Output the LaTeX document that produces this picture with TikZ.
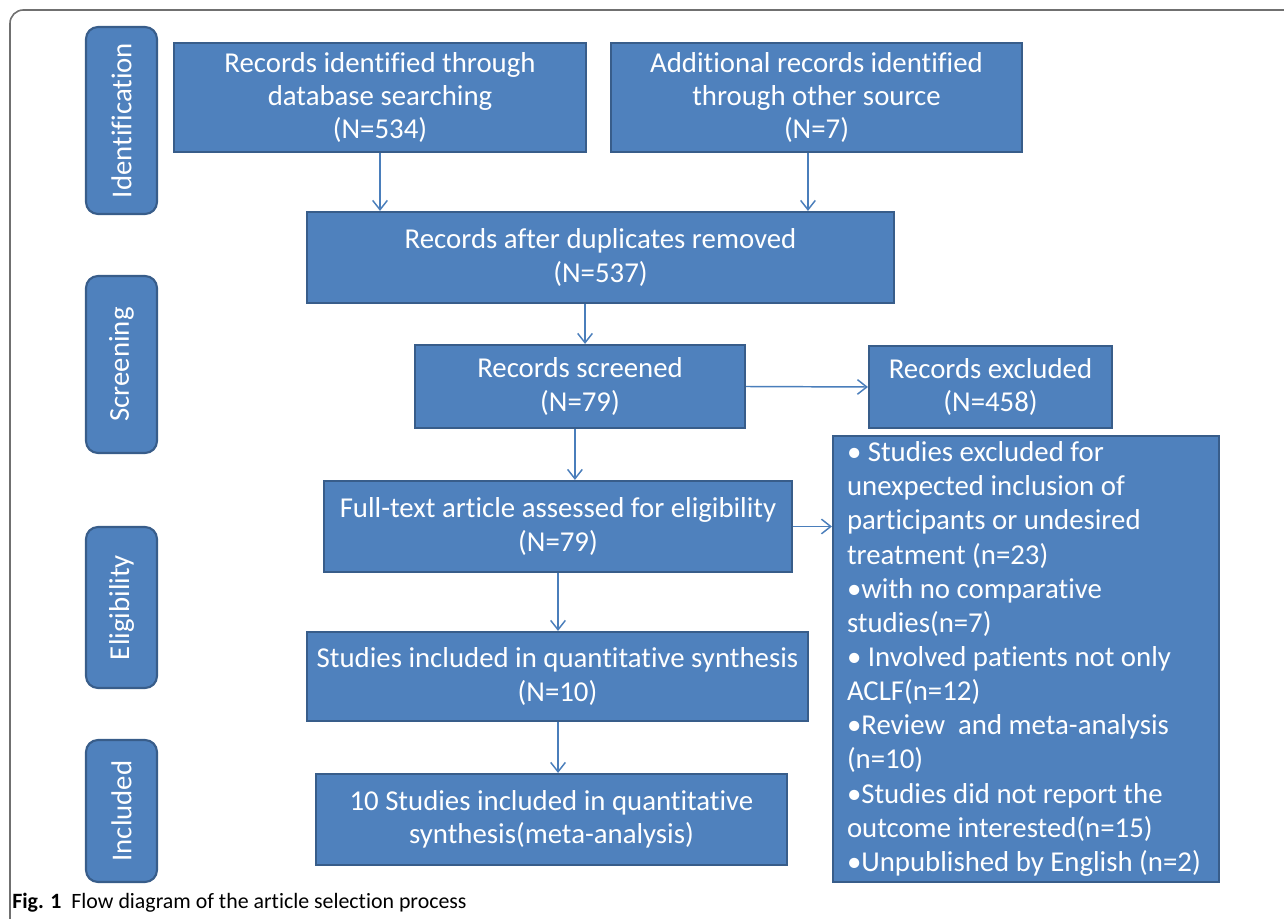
\documentclass[tikz,border=0pt]{standalone}
\usepackage{fontspec}
\setmainfont{Carlito}[Ligatures=NoCommon]
\usetikzlibrary{arrows.meta}

\definecolor{boxfill}{HTML}{4F81BD}
\definecolor{boxline}{HTML}{385D8A}
\definecolor{arrowcol}{HTML}{4A7EBB}
\definecolor{framecol}{HTML}{707070}

\tikzset{
	flowbox/.style={draw=boxline, fill=boxfill, line width=1.6pt, text=white, align=center,
		inner sep=0pt, font=\fontsize{21.6}{25}\selectfont},
	stagebox/.style={flowbox, rounded corners=9pt, rotate=90},
	flowarrow/.style={draw=arrowcol, line width=1.1pt, -{Straight Barb[length=7pt,width=11pt]}}
}

\begin{document}
\begin{tikzpicture}[x=0.75pt,y=-0.75pt]
		\useasboundingbox (0,0) rectangle (1284,919);
		\draw[framecol, line width=1.2pt, rounded corners=10pt] (10,919) -- (10,10) -- (1284,10);

		\node[stagebox, minimum width=187*0.75pt, minimum height=71*0.75pt] (ident) at (121.5,120.5) {Identification};
		\node[stagebox, minimum width=177*0.75pt, minimum height=71*0.75pt] (screen) at (121.5,364.5) {Screening};
		\node[stagebox, minimum width=161*0.75pt, minimum height=71*0.75pt] (elig) at (121.5,607.5) {Eligibility};
		\node[stagebox, minimum width=142*0.75pt, minimum height=71*0.75pt] (incl) at (121.5,811) {Included};

		\node[flowbox, minimum width=412*0.75pt, minimum height=109*0.75pt] (dbsearch) at (380,97.5) {Records identified through\\database searching\\(N=534)};
		\node[flowbox, minimum width=411*0.75pt, minimum height=109*0.75pt] (other) at (816.5,97.5) {Additional records identified\\through other source\\(N=7)};
		\node[flowbox, minimum width=587*0.75pt, minimum height=91*0.75pt] (dedup) at (600.5,257.5) {Records after duplicates removed\\(N=537)};
		\node[flowbox, minimum width=330*0.75pt, minimum height=83*0.75pt] (screened) at (580,386.5) {Records screened\\(N=79)};
		\node[flowbox, minimum width=243*0.75pt, minimum height=82*0.75pt] (excluded) at (990.5,387) {Records excluded\\(N=458)};
		\node[flowbox, minimum width=468*0.75pt, minimum height=91*0.75pt] (fulltext) at (558,526.5) {Full-text article assessed for eligibility\\(N=79)};
		\node[flowbox, minimum width=386*0.75pt, minimum height=446*0.75pt, text width=358*0.75pt, align=flush left, font=\fontsize{21.6}{25.6}\selectfont] (reasons) at (1026,659) {\textbullet{} Studies excluded for\\unexpected inclusion of\\participants or undesired\\treatment (n=23)\\\textbullet with no comparative\\studies(n=7)\\\textbullet{} Involved patients not only\\ACLF(n=12)\\\textbullet Review\ \ and meta-analysis\\(n=10)\\\textbullet Studies did not report the\\outcome interested(n=15)\\\textbullet Unpublished by English (n=2)};
		\node[flowbox, minimum width=501*0.75pt, minimum height=89*0.75pt] (quant) at (557.5,676.5) {Studies included in quantitative synthesis\\(N=10)};
		\node[flowbox, minimum width=471*0.75pt, minimum height=91*0.75pt] (meta) at (551.5,819.5) {10 Studies included in quantitative\\synthesis(meta-analysis)};

		\draw[flowarrow] (dbsearch.south) -- (dbsearch.south |- dedup.north);
		\draw[flowarrow] ([xshift=-6.4pt]other.south) -- ([xshift=-6.4pt]other.south |- dedup.north);
		\draw[flowarrow] ([xshift=-11.6pt]dedup.south) -- ([xshift=-11.6pt]dedup.south |- screened.north);
		\draw[flowarrow] (screened.east) -- (excluded.west);
		\draw[flowarrow] ([xshift=-3.8pt]screened.south) -- ([xshift=-3.8pt]screened.south |- fulltext.north);
		\draw[flowarrow] (fulltext.east) -- (fulltext.east -| reasons.west);
		\draw[flowarrow] (fulltext.south) -- (fulltext.south |- quant.north);
		\draw[flowarrow] ([xshift=0.4pt]quant.south) -- ([xshift=0.4pt]quant.south |- meta.north);

		\node[anchor=west, inner sep=0pt, font=\fontsize{16.4}{18}\selectfont] (caption) at (12,903) {\textbf{Fig. 1}\ \ Flow diagram of the article selection process};
	\end{tikzpicture}
\end{document}
